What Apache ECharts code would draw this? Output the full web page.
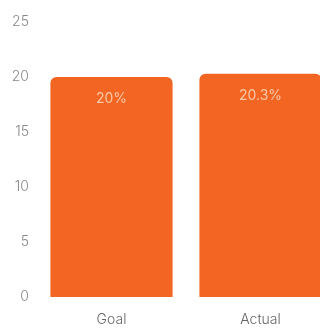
<!DOCTYPE html>
<html>
<head>
<meta charset="utf-8">
<script src="https://cdn.jsdelivr.net/npm/echarts@6/dist/echarts.min.js"></script>
<style>
  html, body { margin: 0; padding: 0; background: #fff; }
  #chart { width: 320px; height: 329px; }
</style>
</head>
<body>
<div id="chart"></div>
<script>
// Goal vs actual rate, in percent
const categories = ['Goal', 'Actual'];
const values = [20, 20.3];
const valueLabels = ['20%', '20.3%'];

const chart = echarts.init(document.getElementById('chart'));
chart.setOption({
  animation: false,
  grid: { left: 37, top: 22, bottom: 32, right: -15, outerBoundsMode: 'none', containLabel: false },
  xAxis: {
    type: 'category',
    data: categories,
    axisLine: { show: false },
    axisTick: { show: false },
    axisLabel: { color: '#666', fontSize: 14, fontWeight: 300, fontFamily: 'Inter, sans-serif', margin: 16 }
  },
  yAxis: {
    type: 'value',
    min: 0,
    max: 25,
    interval: 5,
    splitLine: { show: false },
    axisLine: { show: false },
    axisTick: { show: false },
    axisLabel: { color: '#888', fontSize: 14, fontWeight: 300, fontFamily: 'Inter, sans-serif', margin: 8 }
  },
  series: [{
    type: 'bar',
    data: values,
    barCategoryGap: '18%',
    itemStyle: { color: '#F26522', borderRadius: [6, 6, 0, 0] },
    label: {
      show: true,
      position: 'insideTop',
      distance: 15,
      color: '#F9C9A8',
      fontSize: 14,
      fontFamily: 'Inter, sans-serif',
      formatter: p => valueLabels[p.dataIndex]
    }
  }]
});
</script>
</body>
</html>
